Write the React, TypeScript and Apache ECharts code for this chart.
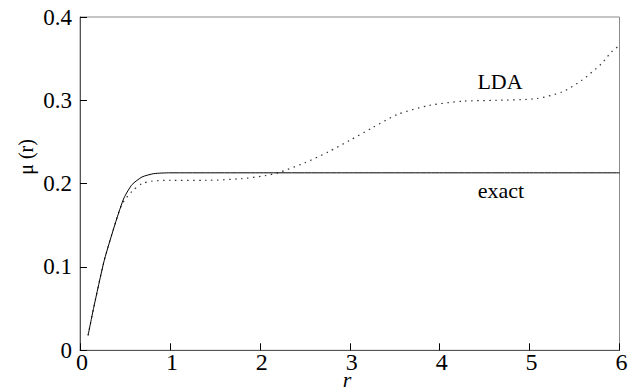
import React, { useEffect, useRef } from "react";
import * as echarts from "echarts";

const exactR = [0.09, 0.15, 0.27, 0.4, 0.49, 0.58, 0.69, 0.82, 1.0, 1.5, 2, 3, 4, 5, 6];
const exactMu = [0.018, 0.05, 0.108, 0.155, 0.183, 0.199, 0.208, 0.212, 0.213, 0.213, 0.213, 0.213, 0.213, 0.213, 0.213];

const ldaR = [0.09, 0.15, 0.27, 0.4, 0.47, 0.58, 0.69, 0.8, 1.0, 1.4, 1.8, 2.06, 2.2, 2.5, 2.76, 3.0, 3.25, 3.53, 3.89, 4.26, 4.63, 5.07, 5.36, 5.58, 5.8, 5.91, 6.0];
const ldaMu = [0.018, 0.05, 0.108, 0.155, 0.176, 0.191, 0.2, 0.203, 0.204, 0.204, 0.206, 0.2096, 0.213, 0.225, 0.238, 0.252, 0.267, 0.283, 0.294, 0.299, 0.3, 0.302, 0.31, 0.324, 0.344, 0.358, 0.366];

const xTicks = [0, 1, 2, 3, 4, 5, 6];
const yTicks = [0, 0.1, 0.2, 0.3, 0.4];

const FONT = "Liberation Serif";

export default function App() {
  const ref = useRef<HTMLDivElement>(null);
  useEffect(() => {
    if (!ref.current) return;
    const chart = echarts.init(ref.current, null, { renderer: "svg" });
    chart.setOption({
      animation: false,
      backgroundColor: "#fff",
      textStyle: { fontFamily: FONT },
      grid: {
        left: 80,
        right: 18.5,
        top: 17,
        bottom: 39.7,
        containLabel: false,
        outerBoundsMode: "none",
        show: true,
        borderColor: "#8a8a8a",
        borderWidth: 1,
      },
      xAxis: {
        type: "value",
        min: xTicks[0],
        max: xTicks[xTicks.length - 1],
        interval: 1,
        axisLine: { show: true, lineStyle: { color: "#555", width: 1 } },
        axisTick: { show: true, inside: true, length: 7, lineStyle: { color: "#000" } },
        axisLabel: {
          fontFamily: FONT,
          fontSize: 24,
          lineHeight: 20,
          color: "#000",
          margin: 2,
          padding: [0, 0, 0, 4],
          formatter: (v: number) => String(v),
        },
        splitLine: { show: false },
      },
      yAxis: {
        type: "value",
        min: yTicks[0],
        max: yTicks[yTicks.length - 1],
        interval: 0.1,
        axisLine: { show: true, lineStyle: { color: "#555", width: 1 } },
        axisTick: { show: true, inside: true, length: 7, lineStyle: { color: "#000" } },
        axisLabel: {
          fontFamily: FONT,
          fontSize: 23,
          color: "#000",
          margin: 8,
          formatter: (v: number) => (v === 0 ? "0" : v.toFixed(1)),
        },
        splitLine: { show: false },
      },
      graphic: [
        {
          type: "text",
          x: 26,
          y: 157,
          rotation: Math.PI / 2,
          style: {
            text: "μ (r)",
            fontFamily: FONT,
            fontSize: 20,
            fill: "#000",
            align: "center",
            verticalAlign: "middle",
          },
        },
        {
          type: "text",
          x: 347,
          y: 379,
          style: {
            text: "r",
            fontFamily: FONT,
            fontStyle: "italic",
            fontSize: 22,
            lineHeight: 18,
            fill: "#000",
            align: "center",
            verticalAlign: "middle",
          },
        },
        {
          type: "text",
          x: 500,
          y: 81,
          style: {
            text: "LDA",
            fontFamily: FONT,
            fontSize: 22,
            fill: "#000",
            align: "center",
            verticalAlign: "middle",
          },
        },
        {
          type: "text",
          x: 501,
          y: 190,
          style: {
            text: "exact",
            fontFamily: FONT,
            fontSize: 22,
            fill: "#000",
            align: "center",
            verticalAlign: "middle",
          },
        },
      ],
      series: [
        {
          name: "exact",
          type: "line",
          data: exactR.map((r, i) => [r, exactMu[i]]),
          smooth: 0.2,
          showSymbol: false,
          symbol: "none",
          lineStyle: { color: "#000", width: 1 },
          z: 3,
        },
        {
          name: "LDA",
          type: "line",
          data: ldaR.map((r, i) => [r, ldaMu[i]]),
          smooth: 0.25,
          showSymbol: false,
          symbol: "none",
          lineStyle: { color: "#333", width: 1.2, type: [1.5, 4.5] },
          z: 2,
        },
      ],
    });
    return () => chart.dispose();
  }, []);
  return <div ref={ref} style={{ width: 638, height: 390, position: "absolute", left: 0, top: 0 }} />;
}
